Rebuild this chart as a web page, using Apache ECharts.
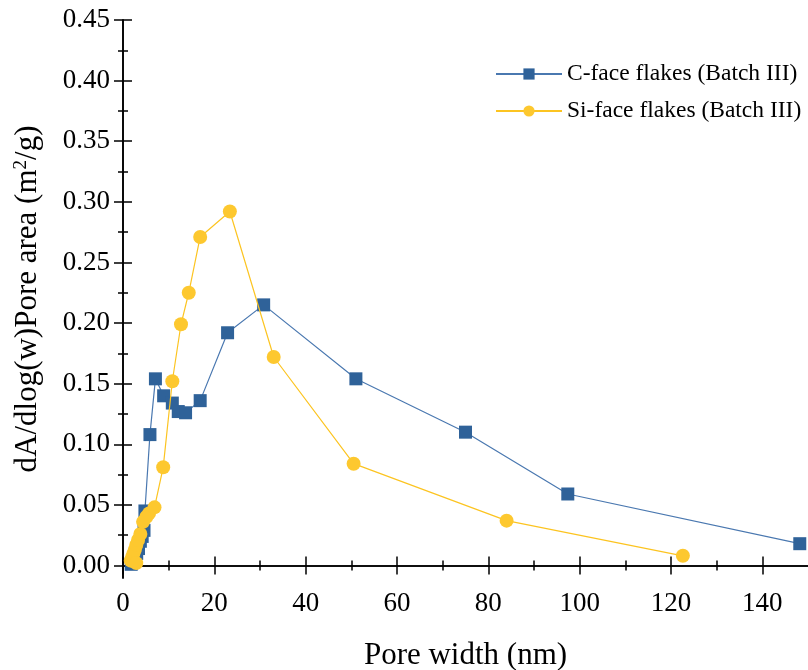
<!DOCTYPE html>
<html>
<head>
<meta charset="utf-8">
<script src="https://cdn.jsdelivr.net/npm/echarts@6/dist/echarts.min.js"></script>
<style>
  html, body { margin: 0; padding: 0; background: #fff; }
  #chart { width: 808px; height: 670px; }
</style>
</head>
<body>
<div id="chart"></div>
<script>
// C-face flakes (Batch III)
const cFaceX = [1.8, 2.2, 2.6, 3.0, 3.4, 3.8, 4.2, 4.6, 4.8, 5.9, 7.1, 8.9, 10.8, 12.1, 13.7, 16.9, 22.9, 30.8, 51.0, 75.0, 97.4, 148.2]
const cFaceY = [0.001, 0.003, 0.006, 0.010, 0.014, 0.020, 0.024, 0.029, 0.045, 0.108, 0.154, 0.140, 0.134, 0.127, 0.126, 0.136, 0.192, 0.215, 0.154, 0.110, 0.059, 0.018]

// Si-face flakes (Batch III)
const siFaceX = [1.7, 2.0, 2.3, 2.9, 2.6, 2.9, 3.3, 3.8, 4.4, 5.1, 5.7, 6.9, 8.8, 10.8, 12.7, 14.4, 16.9, 23.4, 33.0, 50.5, 84.0, 122.6]
const siFaceY = [0.004, 0.007, 0.010, 0.002, 0.013, 0.017, 0.021, 0.026, 0.036, 0.040, 0.043, 0.048, 0.081, 0.152, 0.199, 0.225, 0.271, 0.292, 0.172, 0.084, 0.037, 0.008]

const xMajorTicks = [0, 20, 40, 60, 80, 100, 120, 140]
const xMinorTicks = [10, 30, 50, 70, 90, 110, 130]
const yMajorTicks = [0, 0.05, 0.1, 0.15, 0.2, 0.25, 0.3, 0.35, 0.4, 0.45]
const yMinorTicks = [0.025, 0.075, 0.125, 0.175, 0.225, 0.275, 0.325, 0.375, 0.425]

const font = 'Liberation Serif, Times New Roman, serif'
const blue = '#2f6299'
const yellow = '#fdc82f'

const chart = echarts.init(document.getElementById('chart'))

const axisLine = { show: true, lineStyle: { color: '#000', width: 1.6 } }

const xBase = (pos, ticks, len, extra) => Object.assign({
  type: 'value',
  position: pos,
  min: 0,
  max: 150,
  axisLine: axisLine,
  axisTick: { inside: true, length: len, customValues: ticks, lineStyle: { color: '#000', width: 1.5 } },
  axisLabel: { show: false },
  splitLine: { show: false }
}, extra || {})

const yBase = (pos, ticks, len, extra) => Object.assign({
  type: 'value',
  position: pos,
  min: -0.0103,
  max: 0.45,
  axisLine: axisLine,
  axisTick: { inside: true, length: len, customValues: ticks, lineStyle: { color: '#000', width: 1.5 } },
  axisLabel: { show: false },
  splitLine: { show: false }
}, extra || {})

const option = {
  animation: false,
  grid: { left: 123, top: 20, width: 685, height: 558, containLabel: false, outerBoundsMode: 'none' },
  legend: {
    orient: 'vertical',
    left: 495,
    top: 62,
    padding: 0,
    itemWidth: 66,
    itemHeight: 14,
    itemGap: 13,
    textStyle: { fontFamily: font, fontSize: 23.5, color: '#000' },
    data: ['C-face flakes (Batch III)', 'Si-face flakes (Batch III)']
  },
  xAxis: [
    xBase('bottom', xMajorTicks, 9, {
      name: 'Pore width (nm)',
      nameLocation: 'middle',
      nameGap: 62,
      nameTextStyle: { fontFamily: font, fontSize: 31, color: '#000' },
      axisLabel: {
        show: true,
        customValues: xMajorTicks,
        margin: 12,
        fontFamily: font,
        fontSize: 27,
        color: '#000'
      }
    }),
    xBase('bottom', xMinorTicks, 5, { axisLine: { show: false } }),
    xBase('top', xMajorTicks, 9),
    xBase('top', xMinorTicks, 5, { axisLine: { show: false } })
  ],
  yAxis: [
    yBase('left', yMajorTicks, 9, {
      name: '{t|dA/dlog(w)Pore area (m}{s|2}{t|/g)}',
      nameLocation: 'middle',
      nameGap: 80,
      nameTextStyle: {
        rich: {
          t: { fontFamily: font, fontSize: 31, color: '#000' },
          s: { fontFamily: font, fontSize: 19, color: '#000', verticalAlign: 'top', padding: [0, 0, 12, 0] }
        }
      },
      axisLabel: {
        show: true,
        customValues: yMajorTicks,
        margin: 13,
        fontFamily: font,
        fontSize: 27,
        color: '#000',
        formatter: (v) => v.toFixed(2)
      }
    }),
    yBase('left', yMinorTicks, 5, { axisLine: { show: false } }),
    yBase('right', yMajorTicks, 9),
    yBase('right', yMinorTicks, 5, { axisLine: { show: false } })
  ],
  series: [
    {
      name: 'C-face flakes (Batch III)',
      type: 'line',
      xAxisIndex: 0,
      yAxisIndex: 0,
      data: cFaceX.map((x, i) => [x, cFaceY[i]]),
      symbol: 'rect',
      symbolSize: 13,
      lineStyle: { color: '#4a78b0', width: 1.2 },
      itemStyle: { color: blue },
      z: 2
    },
    {
      name: 'Si-face flakes (Batch III)',
      type: 'line',
      xAxisIndex: 0,
      yAxisIndex: 0,
      data: siFaceX.map((x, i) => [x, siFaceY[i]]),
      symbol: 'circle',
      symbolSize: 14,
      lineStyle: { color: '#fcc421', width: 1.2 },
      itemStyle: { color: yellow },
      z: 3
    }
  ]
}

chart.setOption(option)
</script>
</body>
</html>
